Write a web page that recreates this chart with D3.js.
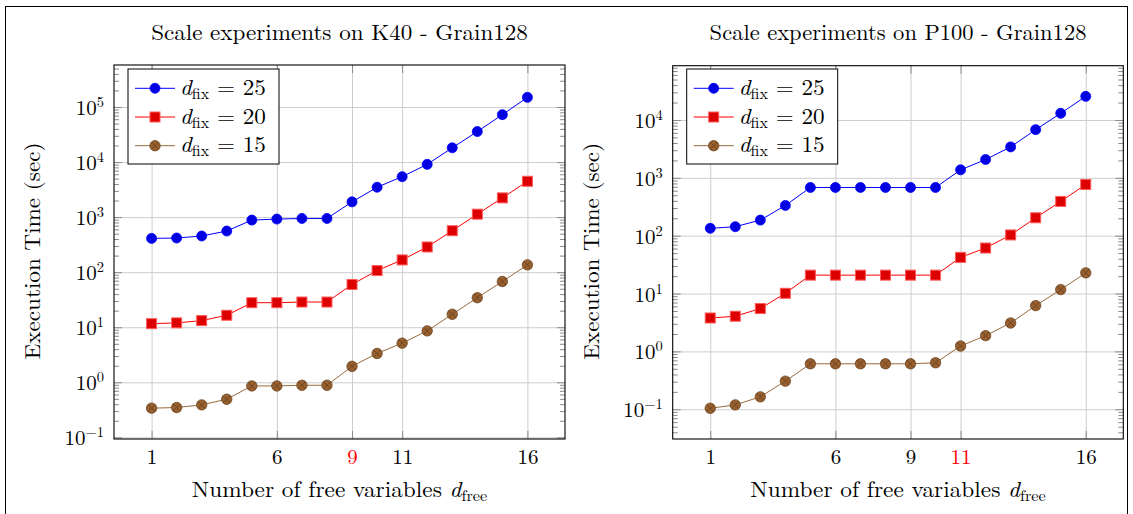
<!DOCTYPE html>
<html><head><meta charset="utf-8">
<script src="https://cdn.jsdelivr.net/npm/d3@7"></script>
<style>
body{margin:0;background:#fff}
svg{display:block}
text{font-family:"Latin Modern Roman","CMU Serif","Liberation Serif","Times New Roman",serif}
</style>
</head><body>
<svg id="c" width="1133" height="514"></svg>
<script>
// ---------- data ----------
const freeVars = [1,2,3,4,5,6,7,8,9,10,11,12,13,14,15,16];
const xTickValues = [1,6,9,11,16];
const seriesLabels = ["25","20","15"];
const k40_fix25 = [411,417,454,559,883,921,946,946,1893,3484,5430,9080,18150,35800,72600,149700];
const k40_fix20 = [11.6,12.0,13.2,16.5,27.9,27.9,28.7,28.7,59.8,107,167,287,566,1132,2234,4477];
const k40_fix15 = [0.339,0.348,0.389,0.493,0.859,0.859,0.883,0.883,1.95,3.34,5.14,8.59,17.2,34.4,67.8,136];
const p100_fix25 = [134,143,186,333,681,681,681,681,681,681,1374,2071,3423,6806,13030,25580];
const p100_fix20 = [3.78,4.05,5.50,10.1,20.8,20.8,20.8,20.8,20.8,20.8,42.2,61.2,103,204,391,768];
const p100_fix15 = [0.104,0.119,0.164,0.306,0.611,0.611,0.611,0.611,0.611,0.636,1.24,1.87,3.10,6.19,11.7,22.8];
const k40YTickExps = [-1,0,1,2,3,4,5];
const p100YTickExps = [-1,0,1,2,3,4];
const titles = ["Scale experiments on K40 - Grain128","Scale experiments on P100 - Grain128"];
const highlightedTicks = [9, 11];

// ---------- layout / style ----------
const svg = d3.select("#c");
svg.append("rect").attr("x",5.5).attr("y",6.5).attr("width",1122).attr("height",600)
   .attr("fill","none").attr("stroke","#000").attr("stroke-width",1);

const styles = [
  {line:"#0000ff", mark:"circle", fill:"#0000e0", stroke:"#0000ff"},
  {line:"#ff0000", mark:"square", fill:"#dd0000", stroke:"#ff5a5a"},
  {line:"#9a6a3a", mark:"otimes", fill:"#97602e", stroke:"#6b4220"}
];

const panels = [
  {title:titles[0], series:[k40_fix25,k40_fix20,k40_fix15], yExps:k40YTickExps, red:highlightedTicks[0],
   box:{x0:114,x1:565,y0:65,y1:439}, logDom:[-1.030,5.763]},
  {title:titles[1], series:[p100_fix25,p100_fix20,p100_fix15], yExps:p100YTickExps, red:highlightedTicks[1],
   box:{x0:672.7,x1:1123.3,y0:65.7,y1:439}, logDom:[-1.514,4.938]}
];

function stretchTo(g, target){
  const w = g.node().getBBox().width;
  return w>0 ? target/w : 1;
}

function drawMark(g, type, st, cx, cy){
  if(type==="circle"){
    g.append("circle").attr("cx",cx).attr("cy",cy).attr("r",5)
      .attr("fill",st.fill).attr("stroke",st.stroke).attr("stroke-width",0.8);
  } else if(type==="square"){
    g.append("rect").attr("x",cx-5).attr("y",cy-5).attr("width",10).attr("height",10)
      .attr("fill",st.fill).attr("stroke",st.stroke).attr("stroke-width",1);
  } else {
    g.append("circle").attr("cx",cx).attr("cy",cy).attr("r",5.2)
      .attr("fill",st.fill).attr("stroke",st.stroke).attr("stroke-width",0.8);
    const r = 5.2*0.707;
    g.append("path").attr("d",`M${cx-r},${cy-r}L${cx+r},${cy+r}M${cx-r},${cy+r}L${cx+r},${cy-r}`)
      .attr("stroke",st.stroke).attr("stroke-width",0.9).attr("fill","none");
  }
}

panels.forEach(p=>{
  const {x0,x1,y0,y1} = p.box;
  const x = d3.scaleLinear().domain([-0.5,17.5]).range([x0,x1]);
  const y = d3.scaleLog().domain([Math.pow(10,p.logDom[0]),Math.pow(10,p.logDom[1])]).range([y1,y0]);
  const decades = p.yExps.map(e=>Math.pow(10,e));
  const minor = [];
  for(let e=Math.floor(p.logDom[0]); e<=Math.ceil(p.logDom[1]); e++){
    for(let k=2;k<=9;k++){ const v=k*Math.pow(10,e); const lv=Math.log10(v);
      if(lv>p.logDom[0] && lv<p.logDom[1]) minor.push(v); }
  }
  const g = svg.append("g");

  // grid
  const gx = g.append("g").attr("transform",`translate(0,${y1})`)
    .call(d3.axisBottom(x).tickValues(xTickValues).tickSize(-(y1-y0)).tickFormat(""));
  const gy = g.append("g").attr("transform",`translate(${x0},0)`)
    .call(d3.axisLeft(y).tickValues(decades).tickSize(-(x1-x0)).tickFormat(""));
  [gx,gy].forEach(a=>{a.select(".domain").remove();
    a.selectAll("line").attr("stroke","#cdcdcd").attr("stroke-width",1);});

  // series
  p.series.forEach((vals,i)=>{
    const st = styles[i];
    const pts = freeVars.map((f,j)=>({x:f,v:vals[j]}));
    g.append("path").datum(pts)
      .attr("d",d3.line().x(d=>x(d.x)).y(d=>y(d.v)))
      .attr("fill","none").attr("stroke",st.line).attr("stroke-width",1);
    const mg = g.append("g");
    pts.forEach(d=>drawMark(mg, st.mark, st, x(d.x), y(d.v)));
  });

  // ticks
  const tickCol = "#8a8a8a";
  const axes = [
    g.append("g").attr("transform",`translate(0,${y1})`).call(d3.axisBottom(x).tickValues(xTickValues).tickSize(-8)),
    g.append("g").attr("transform",`translate(0,${y0})`).call(d3.axisTop(x).tickValues(xTickValues).tickSize(-8).tickFormat("")),
    g.append("g").attr("transform",`translate(${x0},0)`).call(d3.axisLeft(y).tickValues(decades).tickSize(-8)),
    g.append("g").attr("transform",`translate(${x1},0)`).call(d3.axisRight(y).tickValues(decades).tickSize(-8).tickFormat("")),
    g.append("g").attr("transform",`translate(${x0},0)`).call(d3.axisLeft(y).tickValues(minor).tickSize(-5).tickFormat("")),
    g.append("g").attr("transform",`translate(${x1},0)`).call(d3.axisRight(y).tickValues(minor).tickSize(-5).tickFormat(""))
  ];
  axes.forEach(a=>{a.select(".domain").remove(); a.attr("font-family",null).attr("font-size",null);
    a.selectAll("line").attr("stroke",tickCol).attr("stroke-width",1);});

  // x tick labels
  axes[0].selectAll("text").attr("y",24.5).attr("dy",null)
    .attr("font-size",21)
    .attr("fill",null)
    .style("fill",d=>d===p.red?"#ff0000":"#000")
    .text(d=>d);
  // y tick labels
  axes[2].selectAll("text").attr("x",-10).attr("y",7.5).attr("dy",null)
    .attr("font-size",21).attr("text-anchor","end").attr("fill",null).style("fill","#000")
    .each(function(d){
      const t = d3.select(this); t.text("");
      const e = Math.round(Math.log10(d));
      t.append("tspan").text("10");
      t.append("tspan").attr("dy",-8).attr("font-size",14.5).text(e<0?"\u2212"+(-e):String(e));
    });

  // frame
  g.append("rect").attr("x",x0).attr("y",y0).attr("width",x1-x0).attr("height",y1-y0)
    .attr("fill","none").attr("stroke","#000").attr("stroke-width",1.1);

  const cx = (x0+x1)/2;
  // title
  const tg = g.append("g");
  tg.append("text").attr("text-anchor","middle").attr("font-size",21.5).text(p.title);
  let s = stretchTo(tg, 377);
  tg.attr("transform",`translate(${cx},40) scale(${s},1)`);

  // x label
  const xg = g.append("g");
  const xt = xg.append("text").attr("text-anchor","middle").attr("font-size",21.5);
  xt.append("tspan").text("Number of free variables ");
  xt.append("tspan").attr("font-style","italic").text("d");
  xt.append("tspan").attr("font-size",15).attr("dy",4).text("free");
  s = stretchTo(xg, 296);
  xg.attr("transform",`translate(${cx},497) scale(${s},1)`);

  // y label
  const yg = g.append("g");
  yg.append("text").attr("text-anchor","middle").attr("font-size",21.5).text("Execution Time (sec)");
  s = stretchTo(yg, 217);
  const ylx = x0 - 73.6;
  yg.attr("transform",`translate(${ylx},${(y0+y1)/2 - 1}) rotate(-90) scale(${s},1)`);

  // legend
  const lx = x0+14, ly = 69;
  const lg = g.append("g");
  lg.append("rect").attr("x",lx).attr("y",ly).attr("width",151).attr("height",95)
    .attr("fill","#fff").attr("stroke","#000").attr("stroke-width",1);
  seriesLabels.forEach((lab,i)=>{
    const st = styles[i];
    const ry = ly + 19.3 + i*28.7;
    lg.append("line").attr("x1",lx+7).attr("x2",lx+47).attr("y1",ry).attr("y2",ry)
      .attr("stroke",st.line).attr("stroke-width",1);
    drawMark(lg, st.mark, st, lx+27, ry);
    const eg = lg.append("g");
    const et = eg.append("text").attr("font-size",21.5);
    et.append("tspan").attr("font-style","italic").text("d");
    et.append("tspan").attr("font-size",15).attr("dy",4).text("fix");
    et.append("tspan").attr("dy",-4).text(" = "+lab);
    const sc = stretchTo(eg, 86);
    eg.attr("transform",`translate(${lx+52},${ry+6.7}) scale(${sc},1)`);
  });
});
</script>
</body></html>
